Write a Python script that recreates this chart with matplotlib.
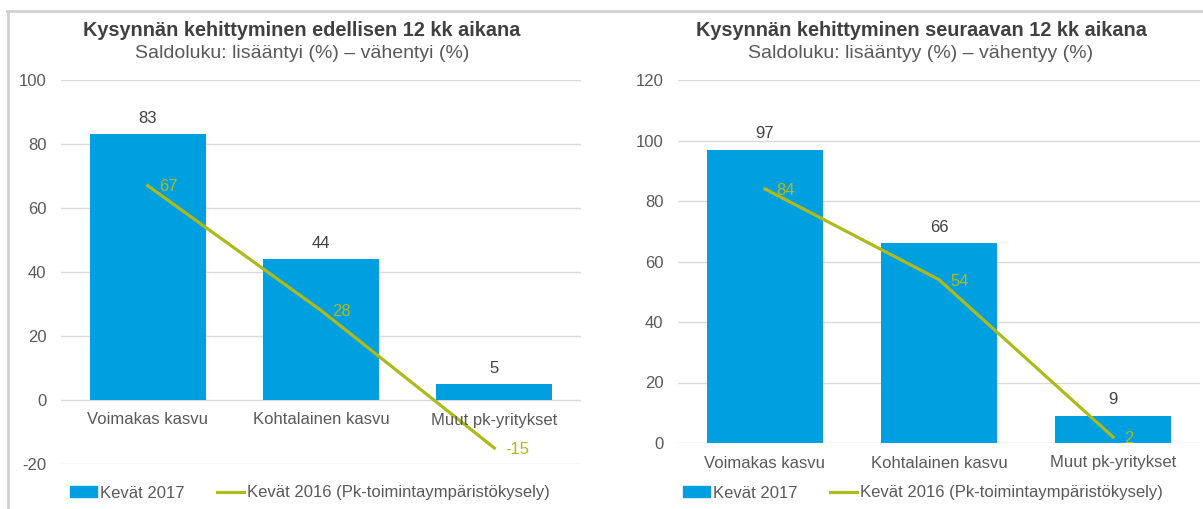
import matplotlib.pyplot as plt
from matplotlib.patches import Patch
from matplotlib.lines import Line2D

plt.rcParams['font.family'] = ['Liberation Sans', 'DejaVu Sans']
plt.rcParams['axes.unicode_minus'] = False

categories = ['Voimakas kasvu', 'Kohtalainen kasvu', 'Muut pk-yritykset']

left_title = 'Kysynnän kehittyminen edellisen 12 kk aikana'
left_subtitle = 'Saldoluku: lisääntyi (%) – vähentyi (%)'
left_2017 = [83, 44, 5]
left_2016 = [67, 28, -15]

right_title = 'Kysynnän kehittyminen seuraavan 12 kk aikana'
right_subtitle = 'Saldoluku: lisääntyy (%) – vähentyy (%)'
right_2017 = [97, 66, 9]
right_2016 = [84, 54, 2]

label_2017 = 'Kevät 2017'
label_2016 = 'Kevät 2016 (Pk-toimintaympäristökysely)'

BLUE = '#009FDF'
GREEN = '#AEBA1A'
TEXT = '#595959'
DARK = '#404040'
GRID = '#D9D9D9'

W, H = 1203, 509
fig = plt.figure(figsize=(W / 100, H / 100), dpi=100)


def px_box(x0, y_top, x1, y_bot):
    return [x0 / W, 1 - y_bot / H, (x1 - x0) / W, (y_bot - y_top) / H]


def draw(ax, bars, line, ylim, yticks, title, subtitle, title_x):
    x = range(len(categories))
    ax.bar(x, bars, width=0.67, color=BLUE, zorder=2)
    ax.plot(x, line, color=GREEN, lw=2.3, zorder=3)
    ax.set_xlim(-0.5, 2.5)
    ax.set_ylim(*ylim)
    ax.set_yticks(yticks)
    ax.set_xticks([])
    ax.grid(axis='y', color=GRID, lw=1, zorder=0)
    ax.set_axisbelow(True)
    for s in ax.spines.values():
        s.set_visible(False)
    ax.tick_params(axis='y', length=0, pad=10.5, labelsize=12, labelcolor=TEXT)
    for i, v in enumerate(bars):
        ax.annotate(str(v), (i, v), xytext=(0, 6), textcoords='offset points',
                    ha='center', va='bottom', fontsize=12, color=DARK)
    for i, v in enumerate(line):
        ax.annotate(str(v), (i, v), xytext=(8, -1), textcoords='offset points',
                    ha='left', va='center', fontsize=12, color=GREEN)
    for i, c in enumerate(categories):
        ax.annotate(c, (i, 0), xytext=(0, -9), textcoords='offset points',
                    ha='center', va='top', fontsize=12, color=TEXT)
    fig.text(title_x / W, 1 - 30 / H, title, ha='center', va='center',
             fontsize=14.3, fontweight='bold', color=DARK)
    fig.text(title_x / W, 1 - 53 / H, subtitle, ha='center', va='center',
             fontsize=14, color=TEXT)


ax1 = fig.add_axes(px_box(61, 80, 581, 464))
draw(ax1, left_2017, left_2016, (-20, 100), range(-20, 101, 20),
     left_title, left_subtitle, 302)

ax2 = fig.add_axes(px_box(678, 80, 1200, 443))
draw(ax2, right_2017, right_2016, (0, 120), range(0, 121, 20),
     right_title, right_subtitle, 921)

handles = [Patch(color=BLUE, label=label_2017),
           Line2D([], [], color=GREEN, lw=2.3, label=label_2016)]
for cx in (310, 923):
    fig.legend(handles=handles, loc='center', bbox_to_anchor=(cx / W, 1 - 493 / H),
               ncol=2, frameon=False, fontsize=12, handlelength=1.6,
               handleheight=0.6, handletextpad=0.15, columnspacing=2.0,
               labelcolor=TEXT)

# screenshot frame
fig.add_artist(Line2D([7 / W, 1], [1 - 11 / H, 1 - 11 / H], color='#D0D0D0', lw=2))
fig.add_artist(Line2D([8 / W, 8 / W], [0, 1 - 11 / H], color='#D0D0D0', lw=2))

fig.savefig('out.png', dpi=100)
